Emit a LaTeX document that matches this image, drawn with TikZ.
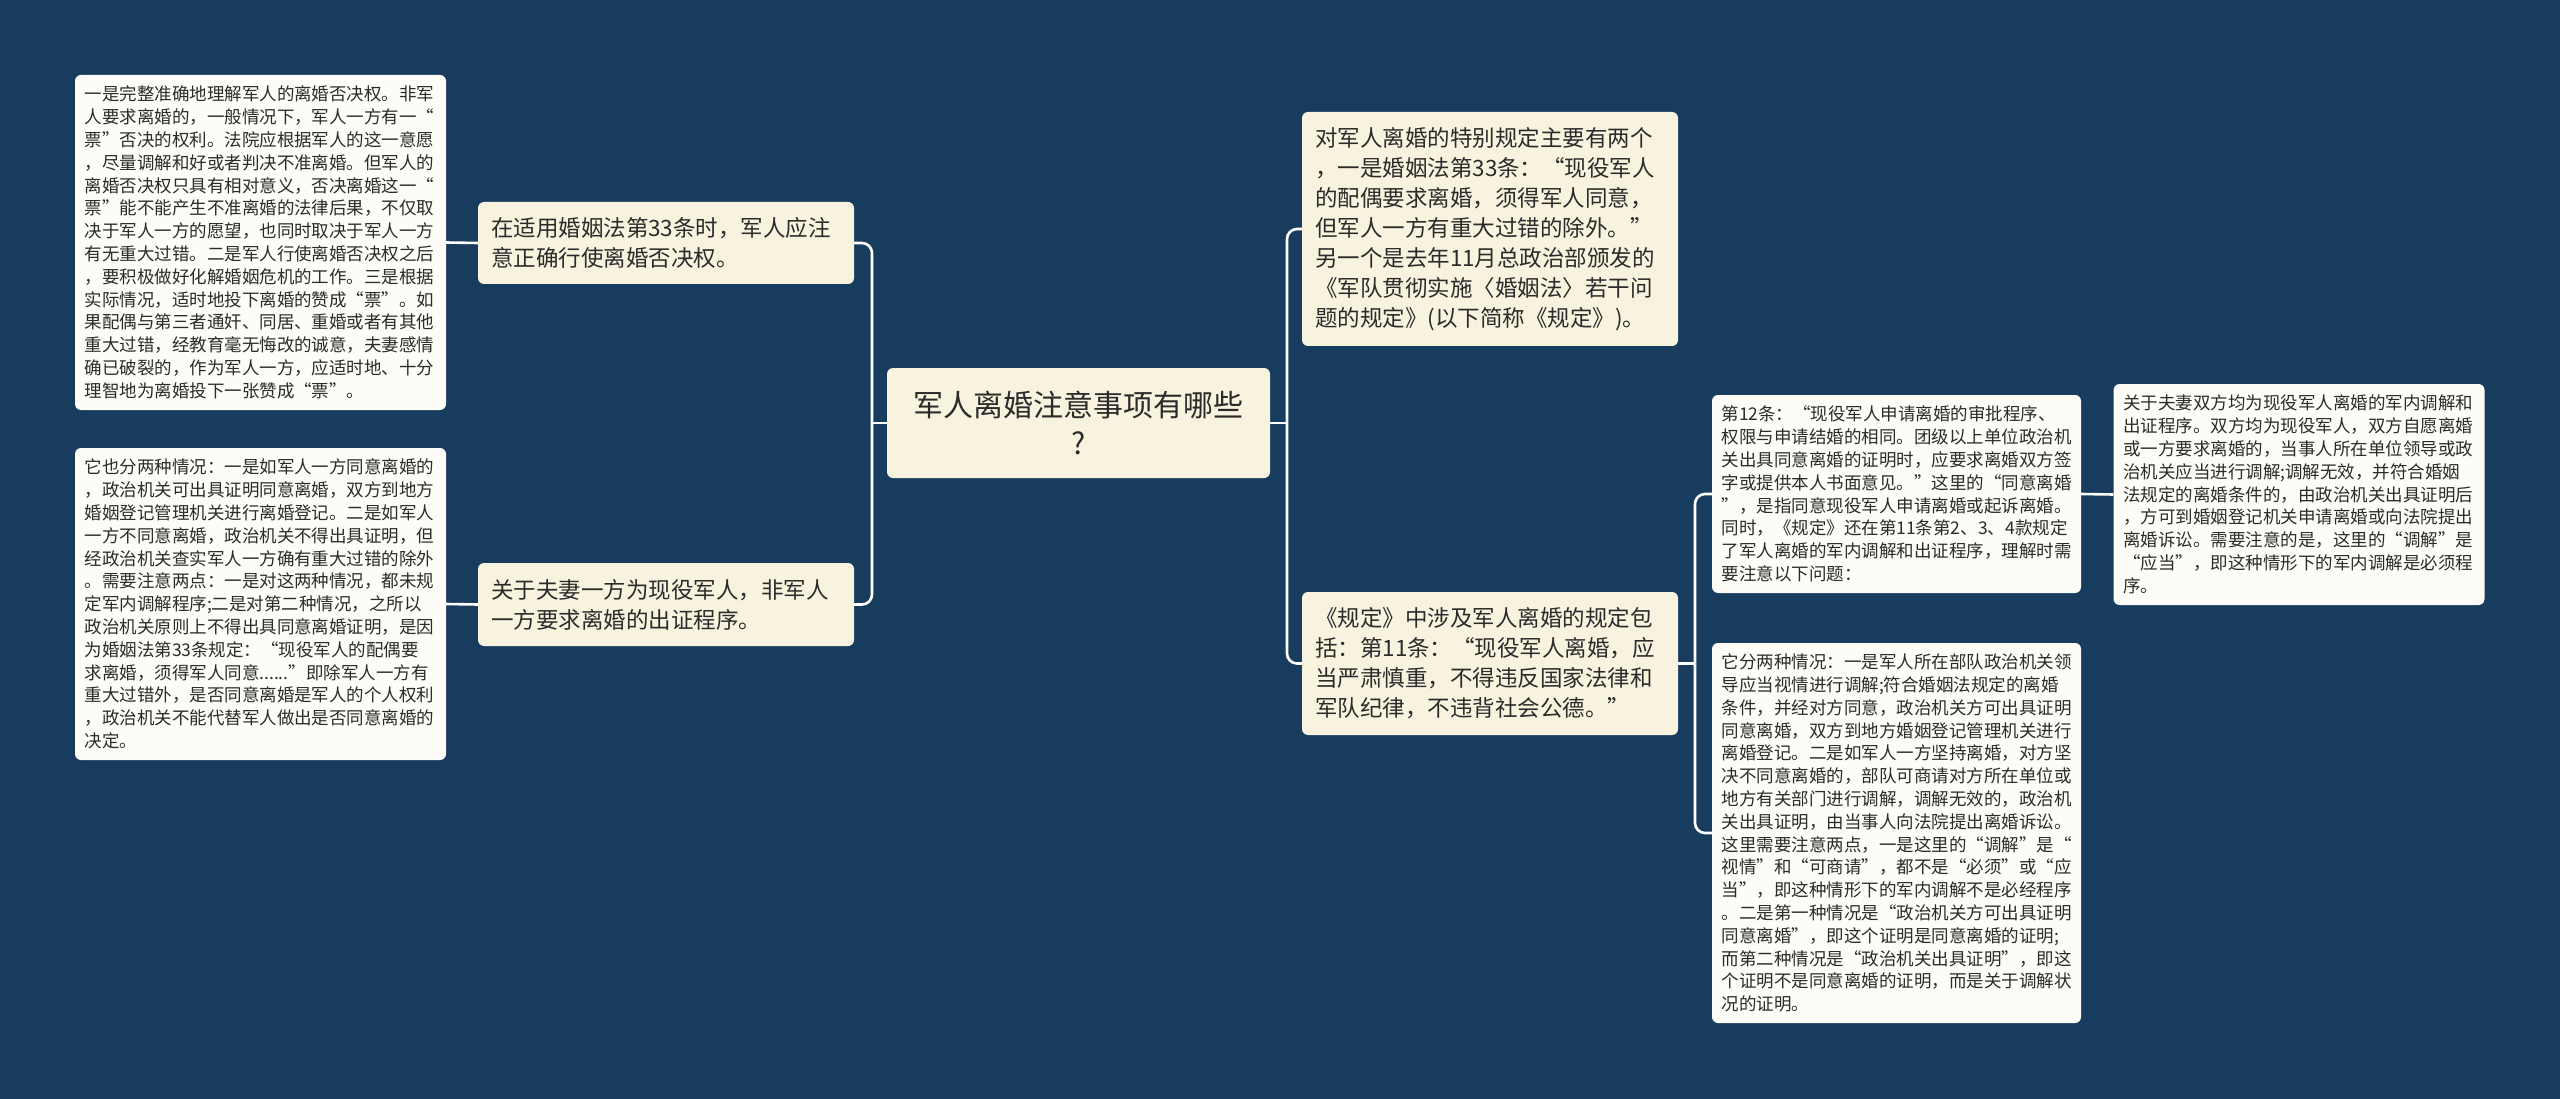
\documentclass[tikz,border=0pt]{standalone}
\usepackage{fontspec}
\setmainfont{Noto Sans CJK SC}
\definecolor{bgc}{HTML}{173C5D}
\definecolor{lonefill}{HTML}{F8F3DF}
\definecolor{leaffill}{HTML}{FDFCF6}
\definecolor{txt}{HTML}{2B2B2B}
\begin{document}
\begin{tikzpicture}[x=1pt,y=-1pt,
  box/.style={rounded corners=6pt, anchor=center, inner ysep=0pt, align=left, text=txt},
  leaf/.style={box, fill=leaffill, font=\fontsize{17.5}{22.8}\selectfont, inner xsep=9.5pt, text width=352pt},
  lone/.style={box, fill=lonefill, font=\fontsize{22.5}{30}\selectfont, inner xsep=13pt},
  rootbox/.style={box, fill=lonefill, font=\fontsize{30}{38}\selectfont, align=center, inner xsep=16.5pt, text width=350pt},
  conn/.style={draw=white, line width=2.6pt, rounded corners=10pt}]
\useasboundingbox (0,0) rectangle (2560,1099);
\fill[bgc] (0,0) rectangle (2560,1099);

% center
\node[rootbox, minimum height=110pt] (root) at (1078.5,423) {军人离婚注意事项有哪些\\?};

% level one left
\node[lone, text width=350pt, minimum height=82pt] (n1) at (666,243) {在适用婚姻法第33条时，军人应注\\意正确行使离婚否决权。};
\node[lone, text width=350pt, minimum height=83pt] (n2) at (666,604.5) {关于夫妻一方为现役军人，非军人\\一方要求离婚的出证程序。};

% leaves left
\node[leaf, minimum height=335pt] (a1) at (260.5,242.5) {一是完整准确地理解军人的离婚否决权。非军\\人要求离婚的，一般情况下，军人一方有一“\\票”否决的权利。法院应根据军人的这一意愿\\，尽量调解和好或者判决不准离婚。但军人的\\离婚否决权只具有相对意义，否决离婚这一“\\票”能不能产生不准离婚的法律后果，不仅取\\决于军人一方的愿望，也同时取决于军人一方\\有无重大过错。二是军人行使离婚否决权之后\\，要积极做好化解婚姻危机的工作。三是根据\\实际情况，适时地投下离婚的赞成“票”。如\\果配偶与第三者通奸、同居、重婚或者有其他\\重大过错，经教育毫无悔改的诚意，夫妻感情\\确已破裂的，作为军人一方，应适时地、十分\\理智地为离婚投下一张赞成“票”。};
\node[leaf, minimum height=312pt] (a2) at (260.5,604) {它也分两种情况：一是如军人一方同意离婚的\\，政治机关可出具证明同意离婚，双方到地方\\婚姻登记管理机关进行离婚登记。二是如军人\\一方不同意离婚，政治机关不得出具证明，但\\经政治机关查实军人一方确有重大过错的除外\\。需要注意两点：一是对这两种情况，都未规\\定军内调解程序;二是对第二种情况，之所以\\政治机关原则上不得出具同意离婚证明，是因\\为婚姻法第33条规定：“现役军人的配偶要\\求离婚，须得军人同意......”即除军人一方有\\重大过错外，是否同意离婚是军人的个人权利\\，政治机关不能代替军人做出是否同意离婚的\\决定。};

% level one right
\node[lone, text width=350pt, minimum height=234pt] (r1) at (1490,229) {对军人离婚的特别规定主要有两个\\，一是婚姻法第33条：“现役军人\\的配偶要求离婚，须得军人同意，\\但军人一方有重大过错的除外。”\\另一个是去年11月总政治部颁发的\\《军队贯彻实施〈婚姻法〉若干问\\题的规定》(以下简称《规定》)。};
\node[lone, text width=350pt, minimum height=143pt] (r2) at (1490,663.5) {《规定》中涉及军人离婚的规定包\\括：第11条：“现役军人离婚，应\\当严肃慎重，不得违反国家法律和\\军队纪律，不违背社会公德。”};

% right leaves
\node[leaf, text width=350pt, minimum height=198pt] (r3) at (1896.5,494) {第12条：“现役军人申请离婚的审批程序、\\权限与申请结婚的相同。团级以上单位政治机\\关出具同意离婚的证明时，应要求离婚双方签\\字或提供本人书面意见。”这里的“同意离婚\\”，是指同意现役军人申请离婚或起诉离婚。\\同时，《规定》还在第11条第2、3、4款规定\\了军人离婚的军内调解和出证程序，理解时需\\要注意以下问题：};
\node[leaf, text width=350pt, minimum height=380pt] (r4) at (1896.5,833) {它分两种情况：一是军人所在部队政治机关领\\导应当视情进行调解;符合婚姻法规定的离婚\\条件，并经对方同意，政治机关方可出具证明\\同意离婚，双方到地方婚姻登记管理机关进行\\离婚登记。二是如军人一方坚持离婚，对方坚\\决不同意离婚的，部队可商请对方所在单位或\\地方有关部门进行调解，调解无效的，政治机\\关出具证明，由当事人向法院提出离婚诉讼。\\这里需要注意两点，一是这里的“调解”是“\\视情”和“可商请”，都不是“必须”或“应\\当”，即这种情形下的军内调解不是必经程序\\。二是第一种情况是“政治机关方可出具证明\\同意离婚”，即这个证明是同意离婚的证明;\\而第二种情况是“政治机关出具证明”，即这\\个证明不是同意离婚的证明，而是关于调解状\\况的证明。};
\node[leaf, minimum height=221pt] (r5) at (2299,494.5) {关于夫妻双方均为现役军人离婚的军内调解和\\出证程序。双方均为现役军人，双方自愿离婚\\或一方要求离婚的，当事人所在单位领导或政\\治机关应当进行调解;调解无效，并符合婚姻\\法规定的离婚条件的，由政治机关出具证明后\\，方可到婚姻登记机关申请离婚或向法院提出\\离婚诉讼。需要注意的是，这里的“调解”是\\“应当”，即这种情形下的军内调解是必须程\\序。};

% junctions
\coordinate (jL) at (872,423);
\coordinate (jR) at (1287,423);
\coordinate (jB) at (1695,663.5);

% connectors
\draw[conn] (root.west) -- (jL);
\draw[conn] (jL) |- (n1.east);
\draw[conn] (jL) |- (n2.east);
\draw[conn] (root.east) -- (jR);
\draw[conn] (jR) |- (r1.west);
\draw[conn] (jR) |- (r2.west);
\draw[conn] (n1.west) -- (a1.east);
\draw[conn] (n2.west) -- (a2.east);
\draw[conn] (r2.east) -- (jB);
\draw[conn] (jB) |- (r3.west);
\draw[conn] (jB) |- (r4.west);
\draw[conn] (r3.east) -- (r5.west);
\end{tikzpicture}
\end{document}
